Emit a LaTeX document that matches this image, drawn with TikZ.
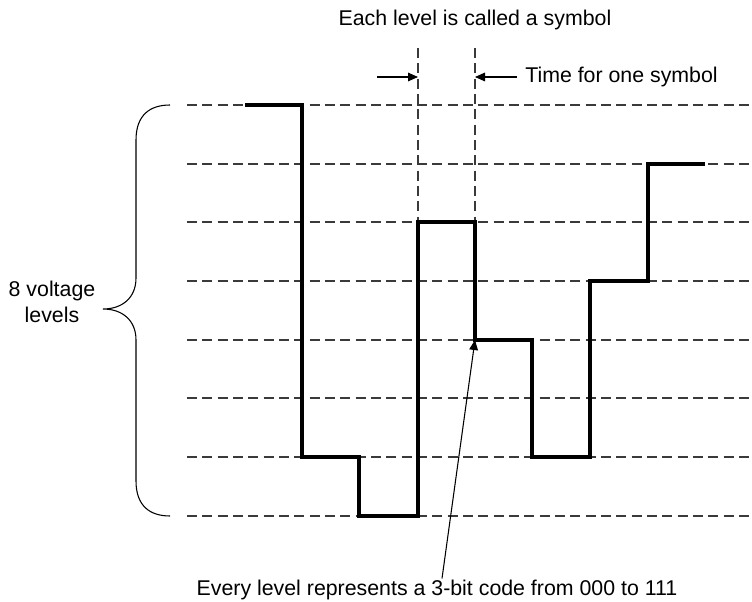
\documentclass[tikz,border=0pt]{standalone}
\usepackage{fontspec}
\setmainfont{Liberation Sans}
\usetikzlibrary{arrows.meta, positioning, calc}
\definecolor{cGRID}{HTML}{3A3A3A}

\begin{document}
\begin{tikzpicture}[
  x=0.75pt, y=-0.75pt,
  font=\fontsize{16}{19}\selectfont,
  level/.style={draw=cGRID, line width=1pt, dash pattern=on 7.5pt off 4pt},
  wave/.style={draw=black, line width=2.4pt, line join=miter},
  arr/.style={-{Triangle[length=7.5pt, width=6.5pt]}, line width=0.8pt},
  lbl/.style={inner sep=1pt, align=center}
]
\useasboundingbox (0,0) rectangle (752,602);

% voltage levels
\foreach \y in {105,164,222,281,340,398,457,516}
  \draw[level] (187,\y) -- (752,\y);

% one symbol wide
\draw[level] (418,48) -- (418,222);
\draw[level] (475,48) -- (475,222);

% waveform
\draw[wave] (245,105) -| (302,457) -| (359,516) -| (418,222)
  -| (475,340) -| (532,457) -| (590,281) -| (648,164) -- (705,164);

\coordinate (lvl) at (475,340);
\coordinate (symL) at (418,77);
\coordinate (symR) at (475,77);
\coordinate (from) at (377,77);

% labels
\node[lbl] (title) at (475,20) {Each level is called a symbol};
\node[lbl, anchor=west, inner sep=6pt] (time) at (517,77) {Time for one symbol};
\node[lbl] (volt) at (52,302) {8 voltage\\levels};
\node[lbl] (code) at (437,590) {Every level represents a 3-bit code from 000 to 111};

\draw[arr] (from) -- (symL);
\draw[arr] (time.west) -- (symR);
\draw[arr] ($(code.north)+(5,0)$) -- (lvl);

% brace
\draw[line width=0.8pt] (170,105) .. controls (150,105) and (136,115) .. (136,140)
  -- (136,278) .. controls (136,298) and (122,309) .. (103,309)
  .. controls (122,309) and (136,320) .. (136,340)
  -- (136,481) .. controls (136,506) and (150,516) .. (170,516);
\end{tikzpicture}
\end{document}
